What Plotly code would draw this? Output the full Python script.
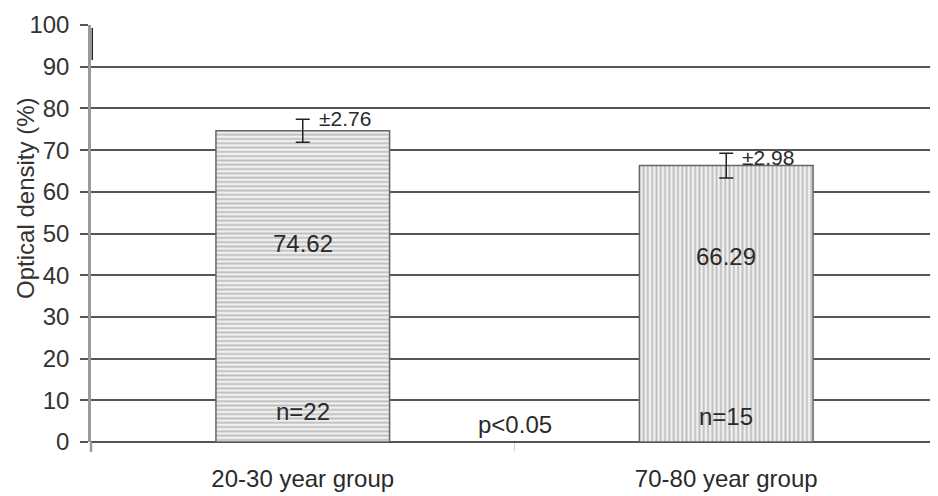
import plotly.graph_objects as go

categories = ["20-30 year group", "70-80 year group"]
values = [74.62, 66.29]
errors = [2.76, 2.98]
value_labels = ["74.62", "66.29"]
error_labels = ["±2.76", "±2.98"]
n_labels = ["n=22", "n=15"]
p_label = "p<0.05"
y_ticks = [0, 10, 20, 30, 40, 50, 60, 70, 80, 90, 100]

fig = go.Figure()
fig.add_trace(go.Bar(
    x=categories, y=values, width=0.41,
    marker=dict(
        color="#f0f0f0",
        line=dict(color="#666666", width=1.5),
        pattern=dict(shape=["-", "|"], fgcolor="#888888", bgcolor="#f0f0f0",
                     size=4.3, solidity=0.42),
    ),
    error_y=dict(type="data", array=errors, visible=True, color="#222222",
                 thickness=1.5, width=7),
    showlegend=False, hoverinfo="skip",
))

font = "Liberation Sans, Arial, sans-serif"
tc = "#2a2a2a"
ann = []
err_shift = [1, -4]
for i, c in enumerate(categories):
    ann.append(dict(x=c, y=values[i] + errors[i], text=error_labels[i], xref="x", yref="y",
                    showarrow=False, xanchor="left", yanchor="middle", xshift=14,
                    yshift=err_shift[i], font=dict(size=21, color=tc)))
ann.append(dict(x=categories[0], y=47.7, text=value_labels[0], showarrow=False,
                font=dict(size=24, color=tc)))
ann.append(dict(x=categories[1], y=44.4, text=value_labels[1], showarrow=False,
                font=dict(size=24, color=tc)))
ann.append(dict(x=categories[0], y=7.4, text=n_labels[0], showarrow=False,
                font=dict(size=24, color=tc)))
ann.append(dict(x=categories[1], y=6.2, text=n_labels[1], showarrow=False,
                font=dict(size=24, color=tc)))
ann.append(dict(x=0.5, xref="x", y=4.1, text=p_label, showarrow=False,
                font=dict(size=24, color=tc)))
ann.append(dict(x=-0.0767, xref="paper", y=0.583, yref="paper", text="Optical density (%)",
                textangle=-90, showarrow=False, xanchor="center", yanchor="middle",
                font=dict(size=24, color="#333")))

fig.update_layout(
    width=930, height=488,
    margin=dict(l=83, r=0, t=17, b=54),
    paper_bgcolor="white", plot_bgcolor="white",
    font=dict(family=font, color=tc),
    annotations=ann,
    shapes=[
        dict(type="line", xref="paper", yref="paper", x0=0, x1=0, y0=-0.024, y1=0,
             line=dict(color="#9a9a9a", width=2.5)),
        dict(type="line", xref="paper", yref="paper", x0=0.0015, x1=0.0015, y0=0.916, y1=0.993,
             line=dict(color="#222222", width=1.5)),
    ],
)
fig.update_xaxes(
    type="category", tickson="boundaries", ticks="outside", ticklen=8,
    tickcolor="#d0d0d0", showgrid=False, showline=False, ticklabelstandoff=20,
    tickfont=dict(size=24, color=tc), range=[-0.5, 1.5],
)
fig.update_yaxes(
    range=[0, 100], tickvals=y_ticks, showgrid=True, gridcolor="#555555", gridwidth=1.5,
    showline=True, linecolor="#9a9a9a", linewidth=2.5, ticks="outside", ticklen=8,
    tickcolor="#555555", tickwidth=1.5, tickfont=dict(size=24, color="#333"),
    ticklabelstandoff=6,
    zeroline=True, zerolinecolor="#555555", zerolinewidth=1.5,
)

fig.write_html("out.html")
